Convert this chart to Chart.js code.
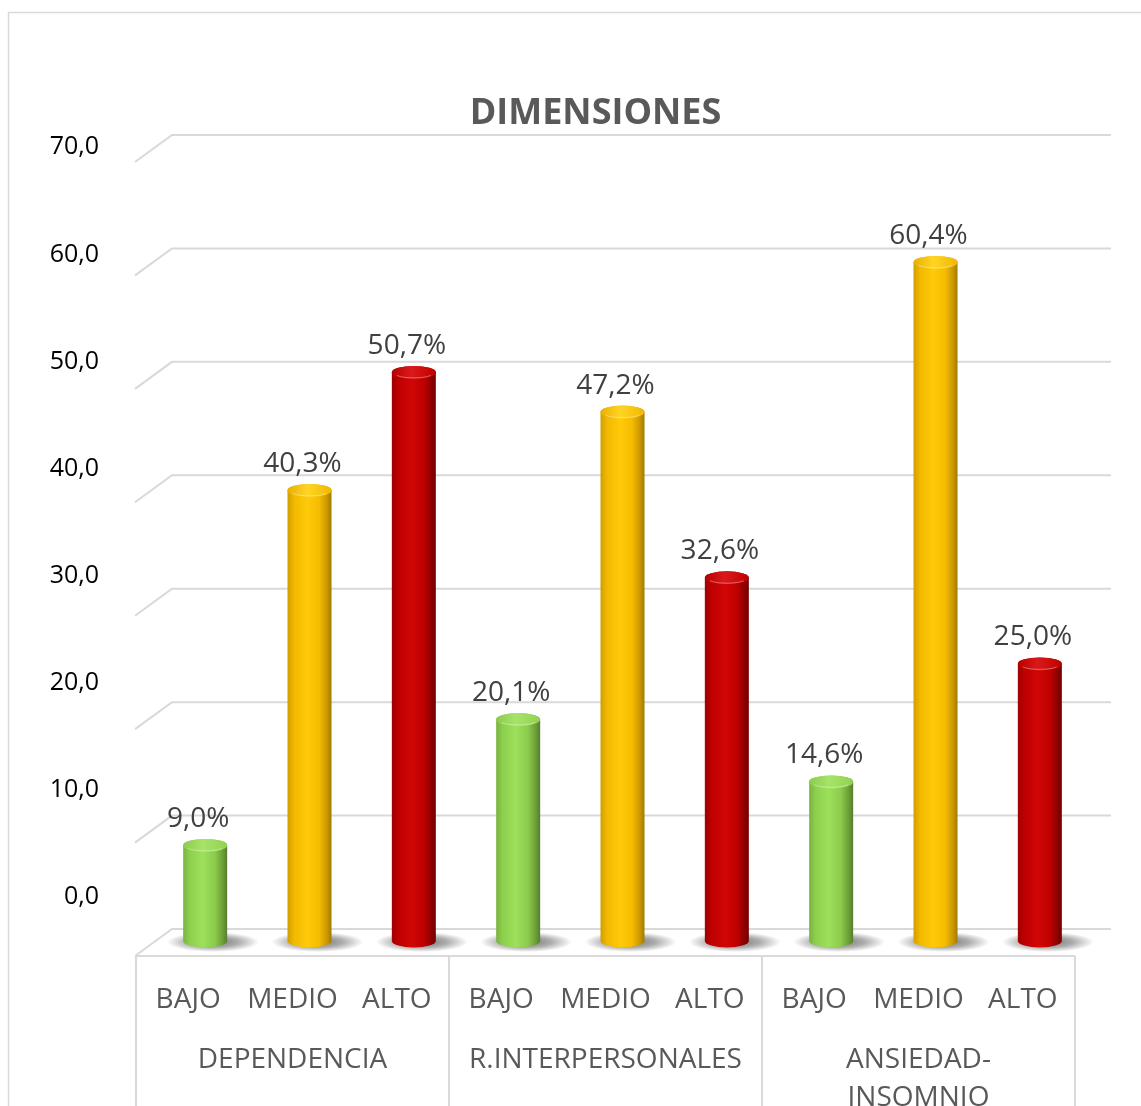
<!DOCTYPE html>
<html lang="es">
<head>
<meta charset="utf-8">
<title>Dimensiones</title>
<script src="https://cdn.jsdelivr.net/npm/chart.js@4.4.1/dist/chart.umd.min.js"></script>
<style>
  html, body { margin: 0; padding: 0; background: #fff; }
  canvas { display: block; }
</style>
</head>
<body>
<canvas id="dimChart" width="1141" height="1106"></canvas>
<script>
// Datos del gráfico
const titulo = 'DIMENSIONES';
const niveles = ['BAJO', 'MEDIO', 'ALTO', 'BAJO', 'MEDIO', 'ALTO', 'BAJO', 'MEDIO', 'ALTO'];
const dimensiones = ['', 'DEPENDENCIA', '', '', 'R.INTERPERSONALES', '', '', ['ANSIEDAD-', 'INSOMNIO'], ''];
const porcentajes = [9.0, 40.3, 50.7, 20.1, 47.2, 32.6, 14.6, 60.4, 25.0];
const ticksEje = [0, 10, 20, 30, 40, 50, 60, 70];

// Colores de los cilindros (izquierda -> derecha)
const tonos = {
    BAJO:  { cuerpo: ['#78B340', '#8DD04E', '#9CE05B', '#8CCB4C', '#6C9E38', '#557F2B'], tapa: ['#8CCB4F', '#A6E468', '#92D152'] },
    MEDIO: { cuerpo: ['#D29E00', '#F2B900', '#FFCA0A', '#F5BC00', '#C99700', '#A27900'], tapa: ['#E8B000', '#FFD426', '#F0B800'] },
    ALTO:  { cuerpo: ['#A00000', '#BE0000', '#D00606', '#C00000', '#900000', '#6E0000'], tapa: ['#B80000', '#DA1A1A', '#C00000'] }
};

const FUENTE = "'Open Sans', 'DejaVu Sans', sans-serif";
const FONDO = { dx: 19, dy: -12 };   // desplazamiento de la pared trasera
const FRENTE = { dx: -18, dy: 15 };  // desplazamiento del borde frontal
const RY = 6.5;                      // radio vertical de la elipse

function formato(v) {
    return v.toFixed(1).replace('.', ',');
}

const efecto3d = {
    id: 'efecto3d',
    beforeDraw(chart) {
        const ctx = chart.ctx;
        ctx.save();
        ctx.fillStyle = '#ffffff';
        ctx.fillRect(0, 0, chart.width, chart.height);
        ctx.strokeStyle = '#d9d9d9';
        ctx.lineWidth = 1.5;
        ctx.strokeRect(8.5, 12.5, chart.width + 20, chart.height + 20);

        // Título centrado sobre la pared del fondo
        const { left, right, top } = chart.chartArea;
        ctx.fillStyle = '#595959';
        ctx.font = 'bold 36px ' + FUENTE;
        ctx.textAlign = 'center';
        ctx.textBaseline = 'alphabetic';
        ctx.fillText(titulo, (left + right) / 2 - 27, top - 23);
        ctx.restore();
    },
    beforeDatasetsDraw(chart) {
        const ctx = chart.ctx;
        const { left, right } = chart.chartArea;
        const ys = chart.scales.y;
        const xs = chart.scales.x;
        ctx.save();
        ctx.strokeStyle = '#d9d9d9';
        ctx.lineWidth = 2;

        // Líneas de división en perspectiva
        ticksEje.forEach(v => {
            const py = ys.getPixelForValue(v);
            ctx.beginPath();
            ctx.moveTo(left + FRENTE.dx, py + FRENTE.dy);
            ctx.lineTo(left + FONDO.dx, py + FONDO.dy);
            ctx.lineTo(right + FONDO.dx, py + FONDO.dy);
            ctx.stroke();
        });

        // Borde frontal del suelo y caja de categorías
        const base = ys.getPixelForValue(0) + FRENTE.dy;
        const paso = xs.getPixelForValue(1) - xs.getPixelForValue(0);
        ctx.beginPath();
        ctx.moveTo(left + FRENTE.dx, base);
        ctx.lineTo(right + FRENTE.dx + 1, base);
        ctx.stroke();
        for (let i = 0; i <= niveles.length; i += 3) {
            const bx = xs.getPixelForValue(0) - paso / 2 + i * paso + FRENTE.dx + 1;
            ctx.beginPath();
            ctx.moveTo(bx, base);
            ctx.lineTo(bx, chart.height);
            ctx.stroke();
        }

        // Sombras en el suelo
        chart.getDatasetMeta(0).data.forEach(el => {
            ctx.save();
            ctx.translate(el.x + 8, el.base + 1);
            ctx.scale(1, 10 / 46);
            const g = ctx.createRadialGradient(0, 0, 0, 0, 0, 46);
            g.addColorStop(0, 'rgba(0,0,0,0.55)');
            g.addColorStop(0.55, 'rgba(0,0,0,0.32)');
            g.addColorStop(1, 'rgba(0,0,0,0)');
            ctx.fillStyle = g;
            ctx.beginPath();
            ctx.arc(0, 0, 46, 0, Math.PI * 2);
            ctx.fill();
            ctx.restore();
        });
        ctx.restore();
    },
    afterDatasetsDraw(chart) {
        const ctx = chart.ctx;
        const meta = chart.getDatasetMeta(0);
        ctx.save();
        meta.data.forEach((el, i) => {
            const t = tonos[niveles[i]];
            const rx = el.width / 2;
            const x = el.x, top = el.y + RY, base = el.base;

            // Cuerpo del cilindro
            const g = ctx.createLinearGradient(x - rx, 0, x + rx, 0);
            [0, 0.15, 0.45, 0.72, 0.9, 1].forEach((s, k) => g.addColorStop(s, t.cuerpo[k]));
            ctx.fillStyle = g;
            ctx.beginPath();
            ctx.moveTo(x - rx, top);
            ctx.lineTo(x - rx, base);
            ctx.ellipse(x, base, rx, RY, 0, Math.PI, 0, true);
            ctx.lineTo(x + rx, top);
            ctx.ellipse(x, top, rx, RY, 0, 0, Math.PI, true);
            ctx.closePath();
            ctx.fill();

            // Tapa superior
            const gt = ctx.createLinearGradient(x - rx, 0, x + rx, 0);
            gt.addColorStop(0, t.tapa[0]);
            gt.addColorStop(0.45, t.tapa[1]);
            gt.addColorStop(1, t.tapa[2]);
            ctx.fillStyle = gt;
            ctx.beginPath();
            ctx.ellipse(x, top, rx, RY, 0, 0, Math.PI * 2);
            ctx.fill();
            ctx.strokeStyle = 'rgba(255,255,255,0.35)';
            ctx.lineWidth = 1;
            ctx.beginPath();
            ctx.ellipse(x, top + 1, rx - 3, RY - 2, 0, 0.15 * Math.PI, 0.85 * Math.PI);
            ctx.stroke();

            // Etiqueta de valor
            ctx.fillStyle = '#404040';
            ctx.font = '28px ' + FUENTE;
            ctx.textAlign = 'center';
            ctx.textBaseline = 'alphabetic';
            ctx.fillText(formato(porcentajes[i]) + '%', x - 7, el.y - 12);
        });
        ctx.restore();
    }
};

const ctx = document.getElementById('dimChart').getContext('2d');
new Chart(ctx, {
    type: 'bar',
    data: {
        labels: niveles,
        datasets: [{
            label: titulo,
            data: porcentajes,
            backgroundColor: 'rgba(0,0,0,0)',
            borderWidth: 0,
            barThickness: 44,
            xAxisID: 'x',
            yAxisID: 'y'
        }]
    },
    options: {
        responsive: false,
        animation: false,
        devicePixelRatio: 1,
        layout: { padding: { left: 20, right: 49, top: 147, bottom: 0 } },
        plugins: {
            legend: { display: false },
            tooltip: { enabled: false },
            title: { display: false }
        },
        scales: {
            y: {
                type: 'linear',
                min: 0,
                max: 70,
                display: false
            },
            yl: {
                type: 'linear',
                position: 'left',
                min: -4.11,
                max: 70.03,
                grid: { display: false, drawTicks: false },
                border: { display: false },
                ticks: {
                    color: '#000000',
                    font: { family: FUENTE, size: 25 },
                    padding: 54,
                    autoSkip: false,
                    callback: v => formato(v)
                },
                afterBuildTicks(scale) {
                    scale.ticks = ticksEje.map(v => ({ value: v }));
                },
                afterFit(scale) { scale.width = 133; }
            },
            x: {
                type: 'category',
                position: 'bottom',
                weight: 0,
                offset: true,
                grid: { display: false },
                border: { display: false },
                ticks: {
                    color: '#595959',
                    font: { family: FUENTE, size: 28, lineHeight: 1.36 },
                    padding: 32,
                    labelOffset: -17,
                    autoSkip: false,
                    maxRotation: 0
                },
                afterFit(scale) { scale.height = 80; }
            },
            x2: {
                type: 'category',
                position: 'bottom',
                weight: 1,
                labels: dimensiones,
                offset: true,
                grid: { display: false },
                border: { display: false },
                ticks: {
                    color: '#595959',
                    font: { family: FUENTE, size: 28, lineHeight: 1.36 },
                    padding: 12,
                    labelOffset: -17,
                    autoSkip: false,
                    maxRotation: 0
                },
                afterFit(scale) { scale.height = 85; }
            }
        }
    },
    plugins: [efecto3d]
});
</script>
</body>
</html>
